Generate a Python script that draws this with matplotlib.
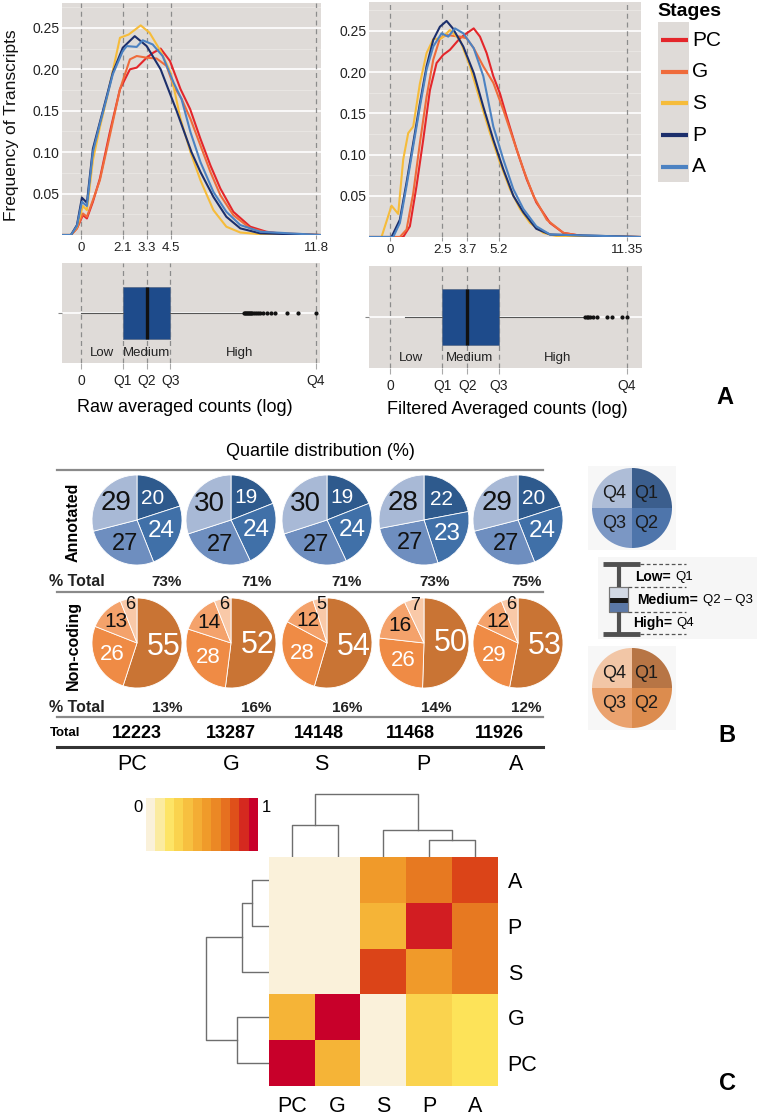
import numpy as np
import matplotlib
matplotlib.use('Agg')
import matplotlib.pyplot as plt
from matplotlib.patches import Rectangle
from matplotlib.colors import LinearSegmentedColormap, Normalize
from matplotlib.cm import ScalarMappable

plt.rcParams['font.family'] = ['Liberation Sans', 'DejaVu Sans']

W, H = 757, 1115

# ---------------- data ----------------
stages = ['PC', 'G', 'S', 'P', 'A']
stage_colors = ['#E4262B', '#EF6B3B', '#F6BC3A', '#1C2F6C', '#4C82C2']

raw_x = {
    'PC': [-1, -0.5, -0.2, 0.1, 0.3, 0.6, 0.95, 1.45, 1.96, 2.46, 2.8, 3.3, 3.63, 4.0, 4.47, 5.0, 5.48, 6.0, 6.5, 7.0, 7.65, 8.5, 9.3, 10.2, 12],
    'G':  [-1, -0.5, -0.2, 0.1, 0.3, 0.6, 0.95, 1.45, 1.96, 2.46, 2.8, 3.3, 3.8, 4.3, 4.65, 5.06, 5.5, 6.0, 6.5, 7.0, 7.65, 8.5, 9.3, 12],
    'S':  [-1, -0.5, -0.2, 0.1, 0.3, 0.6, 0.95, 1.3, 1.6, 1.96, 2.4, 3.0, 3.45, 4.0, 4.5, 5.0, 5.5, 6.0, 6.65, 7.3, 8.0, 9.0, 12],
    'P':  [-1, -0.5, -0.2, 0.05, 0.3, 0.6, 0.95, 1.3, 1.6, 2.1, 2.7, 3.3, 4.0, 4.8, 5.55, 6.0, 6.65, 7.3, 8.0, 9.0, 12],
    'A':  [-1, -0.5, -0.2, 0.05, 0.3, 0.6, 0.95, 1.3, 1.6, 2.1, 2.3, 2.8, 3.1, 3.6, 4.1, 4.65, 5.05, 5.5, 6.0, 6.65, 7.3, 8.0, 9.0, 12],
}
raw_y = {
    'PC': [0, 0, 0.008, 0.024, 0.02, 0.04, 0.068, 0.124, 0.176, 0.2, 0.202, 0.214, 0.22, 0.225, 0.21, 0.176, 0.152, 0.116, 0.084, 0.056, 0.028, 0.01, 0.004, 0.001, 0],
    'G':  [0, 0, 0.008, 0.026, 0.022, 0.042, 0.066, 0.12, 0.176, 0.212, 0.216, 0.214, 0.213, 0.204, 0.18, 0.164, 0.14, 0.108, 0.076, 0.048, 0.024, 0.008, 0.003, 0],
    'S':  [0, 0, 0.01, 0.035, 0.03, 0.09, 0.13, 0.165, 0.198, 0.238, 0.242, 0.253, 0.244, 0.222, 0.196, 0.14, 0.1, 0.066, 0.03, 0.01, 0.003, 0.001, 0],
    'P':  [0, 0, 0.012, 0.045, 0.039, 0.104, 0.136, 0.168, 0.196, 0.226, 0.24, 0.228, 0.2, 0.15, 0.1, 0.076, 0.046, 0.022, 0.008, 0.002, 0],
    'A':  [0, 0, 0.011, 0.04, 0.035, 0.1, 0.134, 0.166, 0.194, 0.222, 0.228, 0.227, 0.235, 0.23, 0.216, 0.184, 0.164, 0.124, 0.088, 0.052, 0.028, 0.012, 0.004, 0],
}
filt_x = {
    'PC': [-1, 0.62, 0.94, 1.26, 1.58, 1.9, 2.22, 2.54, 2.86, 3.34, 3.66, 4.0, 4.3, 4.62, 4.94, 5.26, 5.58, 6.06, 6.54, 7.0, 7.66, 8.3, 9.26, 12],
    'G':  [-1, 0.46, 0.78, 1.1, 1.42, 1.74, 2.06, 2.38, 2.7, 3.0, 3.34, 3.66, 4.0, 4.46, 4.94, 5.42, 5.9, 6.38, 6.86, 7.5, 8.3, 9.26, 12],
    'S':  [-1, -0.42, 0.06, 0.38, 0.62, 0.86, 1.1, 1.42, 1.74, 2.06, 2.46, 2.86, 3.34, 3.82, 4.3, 4.78, 5.26, 5.74, 6.22, 6.7, 7.34, 8.0, 12],
    'P':  [-1, 0.06, 0.46, 0.78, 1.1, 1.42, 1.74, 2.06, 2.38, 2.7, 3.0, 3.5, 4.0, 4.46, 4.94, 5.42, 5.9, 6.38, 7.0, 7.66, 12],
    'A':  [-1, 0.14, 0.46, 0.78, 1.1, 1.42, 1.74, 2.06, 2.46, 2.78, 3.1, 3.5, 4.0, 4.46, 4.94, 5.42, 5.9, 6.38, 7.0, 7.66, 12],
}
filt_y = {
    'PC': [0, 0, 0.013, 0.062, 0.118, 0.178, 0.211, 0.221, 0.227, 0.241, 0.247, 0.253, 0.243, 0.223, 0.195, 0.174, 0.146, 0.106, 0.07, 0.042, 0.017, 0.005, 0.001, 0],
    'G':  [0, 0, 0.009, 0.053, 0.114, 0.17, 0.215, 0.241, 0.245, 0.244, 0.243, 0.241, 0.229, 0.207, 0.187, 0.154, 0.118, 0.082, 0.05, 0.021, 0.005, 0.001, 0],
    'S':  [0, 0, 0.038, 0.028, 0.094, 0.126, 0.134, 0.186, 0.223, 0.24, 0.241, 0.251, 0.239, 0.207, 0.166, 0.126, 0.09, 0.058, 0.034, 0.017, 0.005, 0.001, 0],
    'P':  [0, 0, 0.021, 0.066, 0.114, 0.162, 0.207, 0.239, 0.255, 0.262, 0.253, 0.231, 0.199, 0.158, 0.118, 0.082, 0.05, 0.03, 0.01, 0.003, 0],
    'A':  [0, 0, 0.017, 0.062, 0.11, 0.158, 0.203, 0.231, 0.247, 0.243, 0.253, 0.247, 0.229, 0.195, 0.134, 0.094, 0.058, 0.034, 0.013, 0.003, 0],
}

raw_breaks = [0, 2.1, 3.3, 4.5, 11.8]
raw_break_labels = ['0', '2.1', '3.3', '4.5', '11.8']
filt_breaks = [0, 2.5, 3.7, 5.2, 11.35]
filt_break_labels = ['0', '2.5', '3.7', '5.2', '11.35']
quart_labels = ['0', 'Q1', 'Q2', 'Q3', 'Q4']
density_yticks = [0.05, 0.10, 0.15, 0.20, 0.25]

raw_box = dict(whislo=0.0, q1=2.1, med=3.3, q3=4.5, whishi=8.15)
raw_fliers = [8.2, 8.25, 8.3, 8.35, 8.4, 8.45, 8.5, 8.55, 8.6, 8.7, 8.8, 8.9, 9.0, 9.15,
              9.35, 9.55, 9.75, 10.37, 10.9, 11.8]
filt_box = dict(whislo=0.7, q1=2.5, med=3.7, q3=5.2, whishi=9.26)
filt_fliers = [9.34, 9.42, 9.5, 9.58, 9.74, 9.9, 10.38, 10.62, 11.1, 11.35]
level_names = ['Low', 'Medium', 'High']
raw_level_x = [1.05, 3.3, 8.0]
filt_level_x = [0.99, 3.8, 8.0]

# pies (Q1, Q2, Q3, Q4)
annot_pct = [[20, 24, 27, 29], [19, 24, 27, 30], [19, 24, 27, 30], [22, 23, 27, 28], [20, 24, 27, 29]]
nc_pct = [[55, 26, 13, 6], [52, 28, 14, 6], [54, 28, 12, 5], [50, 26, 16, 7], [53, 29, 12, 6]]
annot_total_pct = ['73%', '71%', '71%', '73%', '75%']
nc_total_pct = ['13%', '16%', '16%', '14%', '12%']
totals = ['12223', '13287', '14148', '11468', '11926']

# heatmap
heat_rows = ['A', 'P', 'S', 'G', 'PC']
heat_cols = ['PC', 'G', 'S', 'P', 'A']
heat_vals = np.array([
    [0.0, 0.0, 0.55, 0.70, 0.85],
    [0.0, 0.0, 0.42, 0.93, 0.70],
    [0.0, 0.0, 0.85, 0.55, 0.70],
    [0.42, 1.0, 0.0, 0.27, 0.20],
    [1.0, 0.42, 0.0, 0.27, 0.20],
])
col_merges = [('PC', 'G', 32), ('P', 'A', 17), ('S', 'P+A', 27), ('PC+G', 'S+P+A', 63)]
row_merges = [('A', 'P', 17), ('A+P', 'S', 27), ('G', 'PC', 32), ('A+P+S', 'G+PC', 63)]

# ---------------- figure ----------------
fig = plt.figure(figsize=(W / 100, H / 100), dpi=100)
fig.patch.set_facecolor('white')
PANEL = '#DFDBD8'
DASH = '#8C8C8C'


def add_px(x0, y0, x1, y1):
    return fig.add_axes([x0 / W, 1 - y1 / H, (x1 - x0) / W, (y1 - y0) / H])


def gg(ax):
    ax.set_facecolor(PANEL)
    for s in ax.spines.values():
        s.set_visible(False)
    ax.set_axisbelow(True)


# density panels
for (box, xl, yl, xs, ys, breaks, blabels) in [
        ((62, 3, 321, 235), (-0.95, 12.05), (0, 0.28), raw_x, raw_y, raw_breaks, raw_break_labels),
        ((369, 2, 641, 237), (-1.02, 12.02), (0, 0.285), filt_x, filt_y, filt_breaks, filt_break_labels)]:
    ax = add_px(*box)
    gg(ax)
    ax.set_xlim(*xl)
    ax.set_ylim(*yl)
    ax.set_yticks(density_yticks)
    ax.set_yticklabels(['%.2f' % v for v in density_yticks])
    ax.set_yticks([0.025, 0.075, 0.125, 0.175, 0.225, 0.275], minor=True)
    ax.grid(axis='y', which='major', color='white', lw=1.2)
    ax.grid(axis='y', which='minor', color='#EAE7E5', lw=0.6)
    ax.set_xticks(breaks)
    ax.set_xticklabels(blabels)
    ax.tick_params(axis='x', length=3, color='#999999', labelsize=9.5, pad=2, labelcolor='#222222')
    ax.tick_params(axis='y', length=0, labelsize=10, pad=2, labelcolor='#222222')
    ax.tick_params(axis='y', which='minor', length=0)
    for b in breaks:
        ax.axvline(b, color=DASH, ls=(0, (4, 3)), lw=0.9, zorder=1)
    for st, c in zip(stages, stage_colors):
        ax.plot(xs[st], ys[st], color=c, lw=1.5, solid_joinstyle='round', zorder=3)

# box panels
for (box, xl, stats, fl, breaks, lx, w) in [
        ((62, 263, 320, 363), (-0.95, 12.02), raw_box, raw_fliers, raw_breaks, raw_level_x, 0.52),
        ((369, 266, 642, 368), (-1.02, 12.07), filt_box, filt_fliers, filt_breaks, filt_level_x, 0.54)]:
    ax = add_px(*box)
    gg(ax)
    ax.set_xlim(*xl)
    ax.set_ylim(0.5, 1.5)
    ax.set_yticks([1])
    ax.set_yticklabels([''])
    ax.grid(axis='y', color='white', lw=1.2)
    for b in breaks:
        ax.axvline(b, color=DASH, ls=(0, (4, 3)), lw=0.9, zorder=1)
    st = dict(stats)
    st['fliers'] = fl
    ax.bxp([st], positions=[1], widths=w, orientation='horizontal', patch_artist=True,
           showcaps=False, manage_ticks=False,
           boxprops=dict(facecolor='#1E4B8B', edgecolor='#5C6F8C', lw=0.6),
           medianprops=dict(color='#111111', lw=2.4),
           whiskerprops=dict(color='#555555', lw=0.8),
           flierprops=dict(marker='o', ms=2.0, mfc='#111111', mec='#111111', lw=0))
    ax.set_xticks(breaks)
    ax.set_xticklabels(quart_labels)
    ax.tick_params(axis='x', length=4, color='#AAAAAA', labelsize=10, pad=4, labelcolor='#222222')
    ax.tick_params(axis='y', length=3, color='#888888')
    for name, x in zip(level_names, lx):
        ax.text(x, 0.6, name, ha='center', va='center', fontsize=9.5, color='#222222')

# heatmap
cmap = LinearSegmentedColormap.from_list('heat', [
    (0.0, '#FAF1DA'), (0.2, '#FDE35A'), (0.4, '#F6B83A'), (0.55, '#F09A2A'),
    (0.7, '#E87A22'), (0.85, '#DC4518'), (0.93, '#D31F22'), (1.0, '#C8002A')])
axh = add_px(269, 857, 498, 1086)
axh.imshow(heat_vals, cmap=cmap, vmin=0, vmax=1, aspect='auto', interpolation='nearest')
axh.set_xticks(range(len(heat_cols)))
axh.set_xticklabels(heat_cols)
axh.set_yticks(range(len(heat_rows)))
axh.set_yticklabels(heat_rows)
axh.yaxis.tick_right()
axh.tick_params(length=0, labelsize=15.5, pad=7)
for s in axh.spines.values():
    s.set_visible(False)

cax = add_px(146, 798, 258, 851)
band = cmap.resampled(12)
cb = fig.colorbar(ScalarMappable(norm=Normalize(0, 1), cmap=band), cax=cax, orientation='horizontal')
cb.set_ticks([])
cb.outline.set_visible(False)


def dendro(ax, order, merges, horizontal):
    pos = {k: i for i, k in enumerate(order)}
    hgt = {k: 0.0 for k in order}
    for a, b, h in merges:
        xa, xb, ha, hb = pos[a], pos[b], hgt[a], hgt[b]
        if horizontal:
            ax.plot([ha, h, h, hb], [xa, xa, xb, xb], color='#6E6E6E', lw=1.0)
        else:
            ax.plot([xa, xa, xb, xb], [ha, h, h, hb], color='#6E6E6E', lw=1.0)
        key = a + '+' + b
        pos[key] = (xa + xb) / 2
        hgt[key] = h


axcd = add_px(269, 790, 498, 857)
dendro(axcd, heat_cols, col_merges, False)
axcd.set_xlim(-0.5, 4.5)
axcd.set_ylim(0, 67)
axcd.axis('off')

axrd = add_px(200, 857, 269, 1086)
dendro(axrd, heat_rows, row_merges, True)
axrd.set_ylim(4.5, -0.5)
axrd.set_xlim(69, 0)
axrd.axis('off')

# overlay in pixel coordinates (y downward)
ov = fig.add_axes([0, 0, 1, 1])
ov.patch.set_alpha(0)

# y label / titles / legend of panel A
ov.text(12, 125, 'Frequency of Transcripts', rotation=90, ha='center', va='center', fontsize=12.5, color='#111111')
ov.text(185, 408, 'Raw averaged counts (log)', ha='center', va='center', fontsize=13)
ov.text(507, 410, 'Filtered Averaged counts (log)', ha='center', va='center', fontsize=13)
ov.text(657, 12, 'Stages', ha='left', va='center', fontsize=14, fontweight='bold')
ov.add_patch(Rectangle((658, 22), 31, 160, facecolor=PANEL, edgecolor='none'))
for i, (st, c) in enumerate(zip(stages, stage_colors)):
    y = 40 + i * 31.7
    ov.plot([661, 688], [y, y], color=c, lw=3, solid_capstyle='butt')
    ov.text(692, y, st, ha='left', va='center', fontsize=15)

# panel B
blue_cols = ['#2E5A8D', '#4070A8', '#6E8EBF', '#A8B9D6']
orange_cols = ['#C97434', '#EF8B45', '#F4A26B', '#F9C9A8']
pie_x = [137, 231, 327, 424, 518]
R = 45
annot_fs = [15, 17.5, 17, 20]
annot_tc = ['white', 'white', '#111111', '#111111']
nc_fs = [22, 16, 15, 13]
nc_tc = ['white', 'white', '#111111', '#111111']


def draw_pie(vals, cx, cy, cols, fs, tcs):
    wedges, _ = ov.pie(vals, colors=cols, center=(cx, cy), radius=R, startangle=-90,
                       counterclock=True, wedgeprops=dict(edgecolor='white', lw=0.6))
    for w, v, f, tc in zip(wedges, vals, fs, tcs):
        mid = np.deg2rad((w.theta1 + w.theta2) / 2)
        frac = 0.6 if v >= 18 else (0.66 if v >= 10 else 0.86)
        ov.text(cx + R * frac * np.cos(mid), cy + R * frac * np.sin(mid), str(v),
                ha='center', va='center', fontsize=f, color=tc)


for i in range(5):
    draw_pie(annot_pct[i], pie_x[i], 520, blue_cols, annot_fs, annot_tc)
    draw_pie(nc_pct[i], pie_x[i], 643, orange_cols, nc_fs, nc_tc)

ov.text(320, 452, 'Quartile distribution (%)', ha='center', va='center', fontsize=13)
ov.plot([57, 543], [470, 470], color='#8A8A8A', lw=1.6)
ov.plot([57, 543], [592, 592], color='#8A8A8A', lw=1.6)
ov.plot([57, 543], [717, 717], color='#8A8A8A', lw=1.6)
ov.plot([57, 543], [747, 747], color='#333333', lw=2.2)
ov.text(73, 522, 'Annotated', rotation=90, ha='center', va='center', fontsize=11.5, fontweight='bold')
ov.text(73, 645, 'Non-coding', rotation=90, ha='center', va='center', fontsize=11.5, fontweight='bold')
ov.text(49, 582, '% Total', ha='left', va='center', fontsize=11.5, fontweight='bold', color='#222222')
ov.text(49, 708, '% Total', ha='left', va='center', fontsize=11.5, fontweight='bold', color='#222222')
ov.text(50, 733, 'Total', ha='left', va='center', fontsize=9.5, fontweight='bold')
for x, t in zip([167, 257, 347, 435, 527], annot_total_pct):
    ov.text(x, 582, t, ha='center', va='center', fontsize=11, fontweight='bold', color='#222222')
for x, t in zip([167, 256, 347, 436, 526], nc_total_pct):
    ov.text(x, 708, t, ha='center', va='center', fontsize=11, fontweight='bold', color='#222222')
for x, t in zip([137, 231, 319, 410, 499], totals):
    ov.text(x, 733, t, ha='center', va='center', fontsize=13, fontweight='bold')
for x, t in zip([132, 231, 321, 423, 516], stages):
    ov.text(x, 765, t, ha='center', va='center', fontsize=15.5)

# legend pies
ov.add_patch(Rectangle((588, 466), 88, 84, facecolor='#F7F7F7', edgecolor='none'))
ov.add_patch(Rectangle((588, 646), 88, 84, facecolor='#F7F7F7', edgecolor='none'))
ov.pie([25, 25, 25, 25], colors=['#3B5E8D', '#4E75AB', '#7B97C4', '#AEBDD7'], center=(632, 508),
       radius=40, startangle=-90, counterclock=True)
ov.pie([25, 25, 25, 25], colors=['#B77545', '#DC8C4E', '#EAA26E', '#F2C6A6'], center=(632, 688),
       radius=40, startangle=-90, counterclock=True)
for cy in (508, 688):
    for (dx, dy, t) in [(-18, -15, 'Q4'), (14, -15, 'Q1'), (-18, 16, 'Q3'), (14, 16, 'Q2')]:
        ov.text(632 + dx, cy + dy, t, ha='center', va='center', fontsize=13, color='#1A1A1A')

# box legend
ov.add_patch(Rectangle((598, 557), 159, 82, facecolor='#F6F6F6', edgecolor='none'))
for y in (564, 634):
    ov.plot([603, 640], [y, y], color='#505050', lw=3.5, solid_capstyle='butt')
    ov.plot([640, 686], [y, y], color='#555555', lw=0.9, ls=(0, (3, 2)))
for y in (587, 612):
    ov.plot([628, 686], [y, y], color='#555555', lw=0.9, ls=(0, (3, 2)))
ov.plot([618.5, 618.5], [564, 587], color='#505050', lw=3, solid_capstyle='butt')
ov.plot([618.5, 618.5], [612, 634], color='#505050', lw=3, solid_capstyle='butt')
ov.add_patch(Rectangle((609, 587), 19, 25, facecolor='#D2D9E4', edgecolor='#777777', lw=0.8))
ov.add_patch(Rectangle((609, 602), 19, 10, facecolor='#5B78A6', edgecolor='none'))
ov.add_patch(Rectangle((609, 598), 19, 5, facecolor='#1A1A1A', edgecolor='none'))
ov.add_patch(Rectangle((609, 587), 19, 25, facecolor='none', edgecolor='#777777', lw=0.8))
ov.text(635, 577, 'Low=', ha='left', va='center', fontsize=10, fontweight='bold')
ov.text(675, 577, 'Q1', ha='left', va='center', fontsize=9.5)
ov.text(637, 600, 'Medium=', ha='left', va='center', fontsize=10, fontweight='bold')
ov.text(703, 600, 'Q2 \u2013 Q3', ha='left', va='center', fontsize=9.5)
ov.text(633, 623, 'High=', ha='left', va='center', fontsize=10, fontweight='bold')
ov.text(676, 623, 'Q4', ha='left', va='center', fontsize=9.5)

# colorbar ends
ov.text(138, 808, '0', ha='center', va='center', fontsize=12)
ov.text(266, 808, '1', ha='center', va='center', fontsize=12)

# panel letters
ov.text(725, 398, 'A', ha='center', va='center', fontsize=17, fontweight='bold')
ov.text(727, 735, 'B', ha='center', va='center', fontsize=17, fontweight='bold')
ov.text(727, 1083, 'C', ha='center', va='center', fontsize=17, fontweight='bold')

ov.set_xlim(0, W)
ov.set_ylim(H, 0)
ov.set_aspect('auto')
ov.axis('off')

fig.savefig('out.png', dpi=100)
